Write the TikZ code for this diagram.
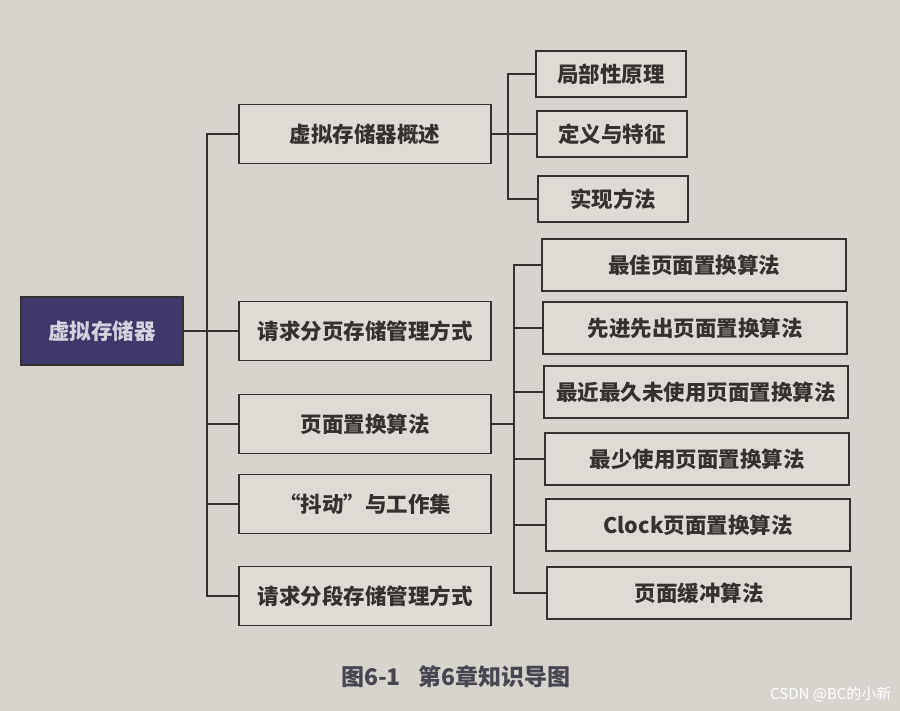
\documentclass[tikz,border=0pt]{standalone}
\usepackage{fontspec}
\usetikzlibrary{calc}
\newfontfamily\cjk{Noto Sans CJK SC}
\definecolor{paper}{HTML}{d7d4ce}
\definecolor{boxbg}{HTML}{dedbd5}
\definecolor{ink}{HTML}{35312f}
\definecolor{rootfill}{HTML}{3d3868}
\definecolor{rootink}{HTML}{d4d2dc}
\definecolor{captionink}{HTML}{474651}

\begin{document}
\begin{tikzpicture}[
    x=1pt,y=-1pt,
    every node/.style={font=\cjk\bfseries\fontsize{21.5}{21.5}\selectfont,text=ink},
    rootnode/.style={
        minimum width=162pt,
        minimum height=68pt,
        inner sep=0pt,
        fill=rootfill,
        draw=ink,
        line width=1.2pt,
        text=rootink,
    },
    mainnode/.style={
        minimum width=252pt,
        minimum height=59pt,
        inner sep=0pt,
        fill=boxbg,
        draw=ink,
        line width=1.6pt,
    },
    topicnode/.style={
        minimum width=150pt,
        minimum height=46pt,
        inner sep=0pt,
        fill=boxbg,
        draw=ink,
        line width=1.6pt,
    },
    algonode/.style={
        minimum width=304pt,
        minimum height=52pt,
        inner sep=0pt,
        fill=boxbg,
        draw=ink,
        line width=1.6pt,
    },
    connector/.style={-,line width=1.4pt,color=ink},
]

% === Page ===
\fill[paper] (0,0) rectangle (900,711);
\useasboundingbox (0,0) rectangle (900,711);

% === Root ===
\node[rootnode] (root) at (102,331) {虚拟存储器};

% === Main topics ===
\node[mainnode] (overview) at (365,134) {虚拟存储器概述};
\node[mainnode] (paging) at (365,331) {请求分页存储管理方式};
\node[mainnode] (replace) at (365,424) {页面置换算法};
\node[mainnode] (thrash) at (365,504) {“抖动”与工作集};
\node[mainnode] (segment) at (365,596) {请求分段存储管理方式};

\coordinate (trunktop) at (207,134);
\coordinate (trunkbot) at (207,596);

\draw[connector] (root) -- (paging);
\draw[connector] (overview.west) -- (trunktop) -- (trunkbot) -- (segment.west);
\draw[connector] (replace.west) -- (replace.west -| trunktop);
\draw[connector] (thrash.west) -- (thrash.west -| trunktop);

% === Overview topics ===
\node[topicnode] (locality) at (611,74) {局部性原理};
\node[topicnode] (define) at (612,134) {定义与特征};
\node[topicnode] (realize) at (613,199) {实现方法};

\coordinate (branchone) at (508,134);

\draw[connector] (overview) -- (define);
\draw[connector] (locality.west) -| (branchone) |- (realize.west);

% === Replacement algorithms ===
\node[algonode] (optimal) at (694,265) {最佳页面置换算法};
\node[algonode] (fifo) at (695,328) {先进先出页面置换算法};
\node[algonode] (lru) at (696,392) {最近最久未使用页面置换算法};
\node[algonode] (lfu) at (697,459) {最少使用页面置换算法};
\node[algonode] (clock) at (698,525) {Clock页面置换算法};
\node[algonode] (buffer) at (699,593) {页面缓冲算法};

\coordinate (branchtwo) at (514,424);

\draw[connector] (replace.east) -- (branchtwo);
\draw[connector] (optimal.west) -| (branchtwo) |- (buffer.west);
\draw[connector] (fifo.west) -- (fifo.west -| branchtwo);
\draw[connector] (lru.west) -- (lru.west -| branchtwo);
\draw[connector] (lfu.west) -- (lfu.west -| branchtwo);
\draw[connector] (clock.west) -- (clock.west -| branchtwo);

% === Caption ===
\node[font=\cjk\bfseries\fontsize{23}{23}\selectfont,text=captionink] (caption) at (456,677) {图6-1\hspace{18pt}第6章知识导图};
\node[font=\cjk\fontsize{15}{15}\selectfont,text=white,anchor=east] (mark) at (895,694) {CSDN @BC的小新};

\end{tikzpicture}
\end{document}
